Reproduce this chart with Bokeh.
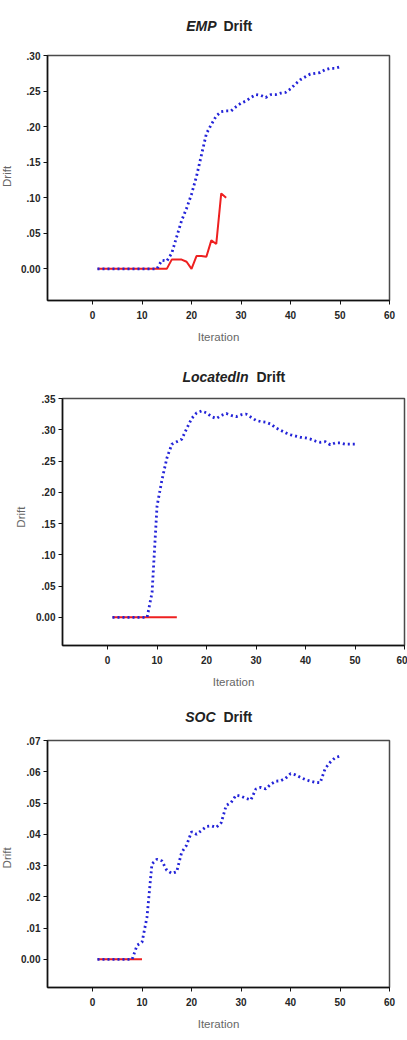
import math

from bokeh.plotting import figure
from bokeh.layouts import column, row
from bokeh.models import FixedTicker, Range1d
from bokeh.core.properties import value
from bokeh.embed import file_html
from bokeh.resources import INLINE

# ---- data -------------------------------------------------------------
iterations = list(range(1, 51))

emp_fine = [0.000, 0.000, 0.000, 0.000, 0.000, 0.000, 0.000, 0.000, 0.000, 0.000,
            0.000, 0.000, 0.000, 0.012, 0.011, 0.022, 0.045, 0.068, 0.085, 0.105,
            0.130, 0.160, 0.190, 0.203, 0.215, 0.221, 0.222, 0.222, 0.228, 0.233,
            0.236, 0.241, 0.245, 0.244, 0.241, 0.245, 0.245, 0.247, 0.248, 0.253,
            0.260, 0.266, 0.270, 0.274, 0.275, 0.276, 0.280, 0.282, 0.282, 0.284]
emp_coarse = [0.000, 0.000, 0.000, 0.000, 0.000, 0.000, 0.000, 0.000, 0.000, 0.000,
              0.000, 0.000, 0.000, 0.000, 0.000, 0.013, 0.013, 0.013, 0.010, 0.000,
              0.018, 0.018, 0.017, 0.040, 0.035, 0.106, 0.100]

loc_fine = [0.000, 0.000, 0.000, 0.000, 0.000, 0.000, 0.000, 0.000, 0.040, 0.178,
            0.220, 0.255, 0.277, 0.281, 0.285, 0.302, 0.318, 0.327, 0.330, 0.327,
            0.321, 0.318, 0.323, 0.326, 0.323, 0.321, 0.324, 0.325, 0.320, 0.315,
            0.313, 0.312, 0.309, 0.303, 0.299, 0.295, 0.292, 0.290, 0.288, 0.287,
            0.285, 0.282, 0.280, 0.281, 0.276, 0.279, 0.279, 0.277, 0.277, 0.277]
loc_coarse = [0.000, 0.000, 0.000, 0.000, 0.000, 0.000, 0.000, 0.000, 0.000, 0.000,
              0.000, 0.000, 0.000, 0.000]

soc_fine = [0.0000, 0.0000, 0.0000, 0.0000, 0.0000, 0.0000, 0.0000, 0.0000, 0.0045, 0.0055,
            0.0135, 0.0305, 0.0320, 0.0315, 0.0285, 0.0275, 0.0280, 0.0342, 0.0365, 0.0408,
            0.0400, 0.0412, 0.0425, 0.0427, 0.0422, 0.0437, 0.0492, 0.0502, 0.0525, 0.0522,
            0.0515, 0.0510, 0.0545, 0.0550, 0.0545, 0.0560, 0.0570, 0.0571, 0.0579, 0.0594,
            0.0590, 0.0582, 0.0575, 0.0570, 0.0566, 0.0565, 0.0610, 0.0630, 0.0645, 0.0650]
soc_coarse = [0.0, 0.0, 0.0, 0.0, 0.0, 0.0, 0.0, 0.0, 0.0, 0.0]

x_ticks = [0, 10, 20, 30, 40, 50, 60]
emp_y_ticks = [0.0, 0.05, 0.10, 0.15, 0.20, 0.25, 0.30]
emp_y_labels = ["0.00", ".05", ".10", ".15", ".20", ".25", ".30"]
loc_y_ticks = [0.0, 0.05, 0.10, 0.15, 0.20, 0.25, 0.30, 0.35]
loc_y_labels = ["0.00", ".05", ".10", ".15", ".20", ".25", ".30", ".35"]
soc_y_ticks = [0.0, 0.01, 0.02, 0.03, 0.04, 0.05, 0.06, 0.07]
soc_y_labels = ["0.00", ".01", ".02", ".03", ".04", ".05", ".06", ".07"]

# ---- styling ----------------------------------------------------------
BLUE = "#2323d8"
RED = "#ee2020"
FONT = "Liberation Sans"
W = 407
X_LO, X_HI = -9.1, 60
SIDE_TEXT_DROP = 27     # anchor offset that centres the rotated "Drift" text


def blank(width, height):
    """A bare canvas whose data units are its own pixels."""
    f = figure(width=width, height=height, x_range=Range1d(0, width),
               y_range=Range1d(0, height), min_border=0,
               x_axis_location=None, y_axis_location=None,
               output_backend="svg", toolbar_location=None)
    f.grid.visible = False
    f.outline_line_color = None
    f.background_fill_color = "white"
    f.border_fill_color = "white"
    return f


def heading(name, height, name_right, drift_left, base):
    """Relation name in bold italic followed by 'Drift' in bold."""
    h = blank(W, height)
    h.text(x=[name_right], y=[base], text=[name],
           text_font=value(FONT), text_font_style="bold italic",
           text_font_size="14px", text_color="#222222",
           text_align="right", text_baseline="middle")
    h.text(x=[drift_left], y=[base], text=["Drift"],
           text_font=value(FONT), text_font_style="bold",
           text_font_size="14px", text_color="#222222",
           text_align="left", text_baseline="middle")
    return h


def side_label(width, height, cx, cy):
    s = blank(width, height)
    s.text(x=[cx], y=[cy - SIDE_TEXT_DROP], text=["Drift"], angle=math.pi / 2,
           text_font=value(FONT), text_font_size="11.5px",
           text_color="#666666", text_align="left",
           text_baseline="middle")
    return s


def body(fine, coarse, y_lo, y_hi, y_ticks, y_labels,
         width, height, left, right, top, bottom):
    p = figure(width=width, height=height,
               x_range=Range1d(X_LO, X_HI), y_range=Range1d(y_lo, y_hi),
               min_border_left=left, min_border_right=right,
               min_border_top=top, min_border_bottom=bottom,
               output_backend="svg", toolbar_location=None)
    p.grid.visible = False
    p.background_fill_color = "white"
    p.border_fill_color = "white"
    p.outline_line_color = "#4a4a4a"
    p.outline_line_width = 1.5
    p.outline_line_alpha = 1.0

    # coarse series underneath, fine series as a dotted trace on top
    p.line(iterations[:len(coarse)], coarse, line_color=RED, line_width=2)
    p.line(iterations[:len(fine)], fine, line_color=BLUE, line_width=2.8,
           line_dash="2 3")

    p.xaxis.ticker = FixedTicker(ticks=x_ticks)
    p.yaxis.ticker = FixedTicker(ticks=y_ticks)
    p.yaxis.major_label_overrides = dict(zip(y_ticks, y_labels))
    p.xaxis.axis_label = "Iteration"
    for ax in (p.xaxis[0], p.yaxis[0]):
        ax.axis_line_color = "#111111"
        ax.axis_line_width = 1.5
        ax.major_tick_line_color = "#111111"
        ax.major_tick_line_width = 1
        ax.major_tick_out = 4
        ax.major_tick_in = 0
        ax.minor_tick_line_color = None
        ax.major_label_text_font = FONT
        ax.major_label_text_font_style = "bold"
        ax.major_label_text_font_size = "10px"
        ax.major_label_text_color = "#262626"
        ax.major_label_standoff = 3
    p.xaxis.major_label_standoff = 6
    p.xaxis.axis_label_text_font = FONT
    p.xaxis.axis_label_text_font_style = "normal"
    p.xaxis.axis_label_text_font_size = "11.5px"
    p.xaxis.axis_label_text_color = "#666666"
    p.xaxis.axis_label_standoff = 9
    return p


def panel(name, fine, coarse, y_lo, y_hi, y_ticks, y_labels,
          head_h, title_base, name_right, drift_left,
          body_h, strip_w, label_x, frame_left, frame_right, bottom):
    top = 10
    frame_h = body_h - top - bottom
    head = heading(name, head_h, name_right, drift_left, title_base)
    strip = side_label(strip_w, body_h, label_x, bottom + frame_h / 2)
    main = body(fine, coarse, y_lo, y_hi, y_ticks, y_labels,
                width=W - strip_w, height=body_h,
                left=frame_left - strip_w, right=W - frame_right,
                top=top, bottom=bottom)
    return column(head, row(strip, main, spacing=0), spacing=0)


emp = panel("EMP", emp_fine, emp_coarse, -0.0445, 0.30,
            emp_y_ticks, emp_y_labels,
            head_h=45, title_base=20, name_right=216, drift_left=223,
            body_h=300, strip_w=12, label_x=6,
            frame_left=47, frame_right=389, bottom=42)
loc = panel("LocatedIn", loc_fine, loc_coarse, -0.045, 0.35,
            loc_y_ticks, loc_y_labels,
            head_h=43, title_base=12, name_right=248, drift_left=256,
            body_h=307, strip_w=27, label_x=20,
            frame_left=62, frame_right=404, bottom=50)
soc = panel("SOC", soc_fine, soc_coarse, -0.009, 0.07,
            soc_y_ticks, soc_y_labels,
            head_h=35, title_base=14, name_right=215, drift_left=223,
            body_h=310, strip_w=12, label_x=6,
            frame_left=47, frame_right=389, bottom=53)

layout = column(emp, loc, soc, spacing=0)

with open("out.html", "w") as f:
    f.write(file_html(layout, INLINE))
